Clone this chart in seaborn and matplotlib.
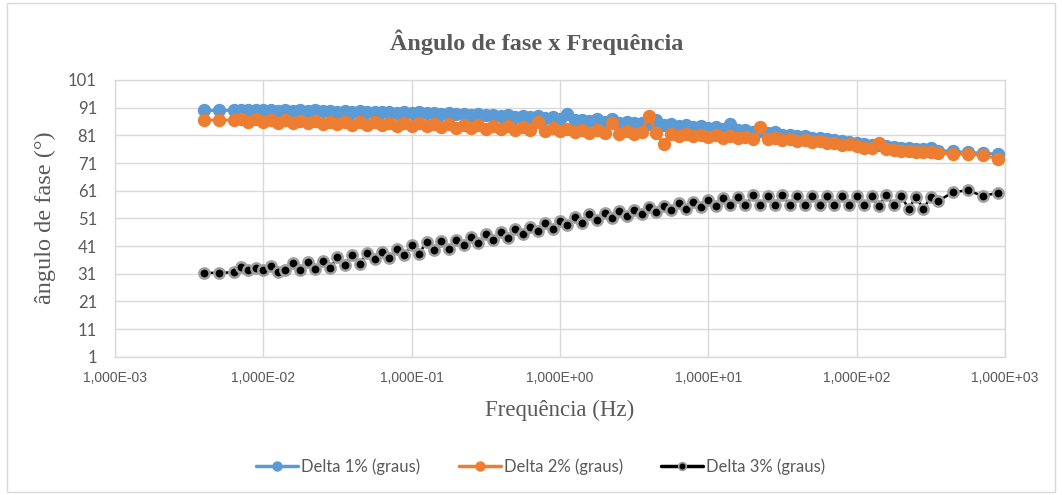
import matplotlib
matplotlib.use("Agg")
import matplotlib.pyplot as plt
import seaborn as sns
from matplotlib.lines import Line2D
from matplotlib.patches import Rectangle
from matplotlib.ticker import FixedLocator, NullLocator

# ---------------- data ----------------
freq_hz = [
    3.98e-3, 5.01e-3, 6.31e-3, 7.08e-3, 7.94e-3, 8.91e-3,
    1.00e-2, 1.12e-2, 1.26e-2, 1.41e-2, 1.58e-2, 1.78e-2, 2.00e-2, 2.24e-2, 2.51e-2, 2.82e-2,
    3.16e-2, 3.55e-2, 3.98e-2, 4.47e-2, 5.01e-2, 5.62e-2, 6.31e-2, 7.08e-2, 7.94e-2, 8.91e-2,
    1.00e-1, 1.12e-1, 1.26e-1, 1.41e-1, 1.58e-1, 1.78e-1, 2.00e-1, 2.24e-1, 2.51e-1, 2.82e-1,
    3.16e-1, 3.55e-1, 3.98e-1, 4.47e-1, 5.01e-1, 5.62e-1, 6.31e-1, 7.08e-1, 7.94e-1, 8.91e-1,
    1.00, 1.12, 1.26, 1.41, 1.58, 1.78, 2.00, 2.24, 2.51, 2.82,
    3.16, 3.55, 3.98, 4.47, 5.01, 5.62, 6.31, 7.08, 7.94, 8.91,
    10.0, 11.2, 12.6, 14.1, 15.8, 17.8, 20.0, 22.4, 25.1, 28.2,
    31.6, 35.5, 39.8, 44.7, 50.1, 56.2, 63.1, 70.8, 79.4, 89.1,
    100.0, 112.0, 126.0, 141.0, 158.0, 178.0, 200.0, 224.0, 251.0, 282.0,
    316.0, 355.0, 447.0, 562.0, 708.0, 891.0,
]

delta1 = [
    90.0, 90.0, 90.0, 90.3, 90.0, 90.3, 90.0, 90.2, 89.9, 90.2,
    89.9, 90.1, 89.8, 90.0, 89.7, 89.9, 89.6, 89.8, 89.5, 89.7,
    89.4, 89.6, 89.3, 89.5, 89.2, 89.4, 89.1, 89.3, 88.9, 89.1,
    88.7, 89.0, 88.6, 88.8, 88.4, 88.6, 88.2, 88.5, 88.0, 88.3,
    87.8, 88.1, 87.5, 87.9, 87.3, 87.6, 87.0, 88.7, 86.6, 86.5,
    86.2, 87.0, 85.9, 86.8, 85.6, 86.0, 85.3, 85.5, 85.0, 86.5,
    84.7, 85.0, 84.3, 84.6, 84.0, 84.2, 83.6, 84.0, 83.2, 85.0,
    82.8, 83.0, 82.3, 82.5, 81.8, 82.2, 81.3, 81.2, 80.7, 80.6,
    80.2, 80.0, 79.5, 79.4, 78.8, 78.6, 78.2, 78.0, 77.6, 77.5,
    77.0, 76.9, 76.5, 76.4, 76.0, 76.1, 76.6, 75.5, 75.2, 74.8,
    74.6, 74.2,
]

delta2 = [
    86.5, 86.5, 86.5, 87.0, 86.0, 86.8, 85.8, 86.6, 85.6, 86.5,
    85.4, 86.3, 85.3, 86.2, 85.1, 86.0, 85.0, 85.9, 84.9, 85.8,
    84.8, 85.7, 84.6, 85.6, 84.5, 85.5, 84.4, 85.3, 84.2, 85.1,
    84.0, 85.0, 83.8, 84.8, 83.6, 84.6, 83.4, 84.4, 83.2, 84.2,
    83.0, 84.0, 82.8, 85.8, 82.6, 83.6, 82.4, 83.3, 82.2, 83.0,
    82.0, 82.8, 81.8, 85.5, 81.6, 82.4, 81.4, 82.2, 88.1, 81.9,
    77.8, 81.6, 80.8, 81.4, 80.6, 81.2, 80.4, 81.0, 80.2, 80.8,
    80.0, 80.5, 79.8, 84.0, 79.5, 80.0, 79.2, 79.6, 78.9, 79.2,
    78.5, 78.8, 78.1, 78.4, 77.6, 77.9, 77.0, 76.6, 76.5, 78.3,
    76.0, 75.6, 75.5, 75.2, 75.0, 74.8, 74.8, 74.5, 74.4, 74.2,
    73.8, 72.6,
]

delta3 = [
    31.3, 31.3, 31.5, 33.4, 32.2, 33.1, 32.2, 33.6, 31.6, 32.2,
    34.8, 32.4, 35.1, 32.8, 35.5, 33.1, 36.9, 34.0, 37.9, 34.6,
    38.4, 36.4,
    39.0, 36.8, 40.0, 37.6, 41.2, 38.2, 42.4, 39.4, 42.8, 40.0,
    43.3, 41.2, 44.2, 42.0, 45.4, 43.2, 46.0, 44.0, 47.0, 45.2,
    48.0, 46.4, 49.2, 47.2, 50.0,
    48.5, 51.5, 49.4, 52.7, 50.3, 53.0, 51.0, 53.5, 51.8, 54.0,
    52.5, 55.0, 53.2, 55.6, 53.9, 56.4, 54.5, 57.0, 55.1,
    57.5, 55.5, 58.2, 55.7, 58.8, 55.7, 59.3, 55.7, 59.2, 55.7,
    59.3, 55.9, 59.0, 55.7, 59.2, 55.7, 59.0, 55.7, 59.0, 55.7,
    59.0, 55.7, 59.0, 55.3, 59.4, 55.7, 59.0, 54.5, 58.7, 54.5,
    58.7, 57.3, 60.5, 61.1, 59.1, 60.2,
]

series_names = ["Delta 1% (graus)", "Delta 2% (graus)", "Delta 3% (graus)"]
series_colors = ["#5B9BD5", "#ED7D31", "#000000"]

y_ticks = [1, 11, 21, 31, 41, 51, 61, 71, 81, 91, 101]
x_ticks = [1e-3, 1e-2, 1e-1, 1e0, 1e1, 1e2, 1e3]
x_tick_labels = ["1,000E-03", "1,000E-02", "1,000E-01", "1,000E+00",
                 "1,000E+01", "1,000E+02", "1,000E+03"]

title_text = "Ângulo de fase x Frequência"
x_label = "Frequência (Hz)"
y_label = "ângulo de fase (°)"

# ---------------- style ----------------
sns.set_theme(style="white")
plt.rcParams["font.family"] = ["Lato", "DejaVu Sans"]
text_gray = "#595959"
grid_gray = "#D9D9D9"

W, H = 1062, 495
fig = plt.figure(figsize=(W / 100, H / 100), dpi=100)
fig.patch.set_facecolor("white")

# chart-area border
fig.patches.append(Rectangle((7 / W, 3 / H), (1055 - 7) / W, (492 - 3) / H,
                             transform=fig.transFigure, fill=False,
                             edgecolor=grid_gray, linewidth=1.0))

ax = fig.add_axes([115 / W, 1 - 356.7 / H, 890 / W, 276.7 / H])

series_values = [delta1, delta2, delta3]
for i, (vals, col, name) in enumerate(zip(series_values, series_colors, series_names)):
    if i < 2:
        sns.lineplot(x=freq_hz, y=vals, ax=ax, color=col, linewidth=2.2,
                     marker="o", markersize=9.6, markeredgecolor=col,
                     markeredgewidth=0.0, estimator=None, sort=False,
                     label=name, zorder=3 + i)
    else:
        sns.lineplot(x=freq_hz, y=vals, ax=ax, color=col, linewidth=1.8,
                     marker="o", markersize=7.4, markeredgecolor="#A0A0A0",
                     markeredgewidth=1.8, estimator=None, sort=False,
                     label=name, zorder=5)

ax.set_xscale("log")
ax.set_xlim(1e-3, 1e3)
ax.set_ylim(1, 101)
ax.xaxis.set_major_locator(FixedLocator(x_ticks))
ax.xaxis.set_minor_locator(NullLocator())
ax.set_xticklabels(x_tick_labels)
ax.yaxis.set_major_locator(FixedLocator(y_ticks))
ax.set_yticklabels([str(v) for v in y_ticks])
ax.grid(True, which="major", color=grid_gray, linewidth=1.0)
ax.set_axisbelow(True)
for sp in ax.spines.values():
    sp.set_color(grid_gray)
    sp.set_linewidth(1.0)

ax.tick_params(axis="y", length=0, pad=13, labelsize=12, labelcolor=text_gray)
ax.tick_params(axis="x", length=0, pad=10, labelsize=10, labelcolor=text_gray)
for lab in ax.get_xticklabels():
    lab.set_family(["Liberation Sans Narrow", "Liberation Sans", "DejaVu Sans"])
ax.set_xlabel("")
ax.set_ylabel("")
if ax.get_legend() is not None:
    ax.get_legend().remove()

serif = ["Liberation Serif", "DejaVu Serif"]
fig.text(537 / W, 1 - 42 / H, title_text, ha="center", va="center",
         fontsize=17.5, fontweight="bold", color=text_gray, family=serif)
fig.text(45 / W, 1 - 218 / H, y_label, ha="center", va="center", rotation=90,
         fontsize=17.5, color=text_gray, family=serif)
fig.text(560 / W, 1 - 410 / H, x_label, ha="center", va="center",
         fontsize=16.5, color=text_gray, family=serif)

handles = [
    Line2D([], [], color=series_colors[0], lw=2.5, marker="o", markersize=7.5,
           markeredgecolor=series_colors[0], markeredgewidth=0),
    Line2D([], [], color=series_colors[1], lw=2.5, marker="o", markersize=7.5,
           markeredgecolor=series_colors[1], markeredgewidth=0),
    Line2D([], [], color=series_colors[2], lw=2.5, marker="o", markersize=5.5,
           markeredgecolor="#9A9A9A", markeredgewidth=1.2),
]
leg = fig.legend(handles, series_names, loc="center",
                 bbox_to_anchor=(541 / W, 1 - 467 / H), ncol=3, frameon=False,
                 fontsize=12, handlelength=2.5, handletextpad=0.2,
                 columnspacing=2.3, labelcolor=text_gray)

fig.savefig("out.png", dpi=100, facecolor="white")
